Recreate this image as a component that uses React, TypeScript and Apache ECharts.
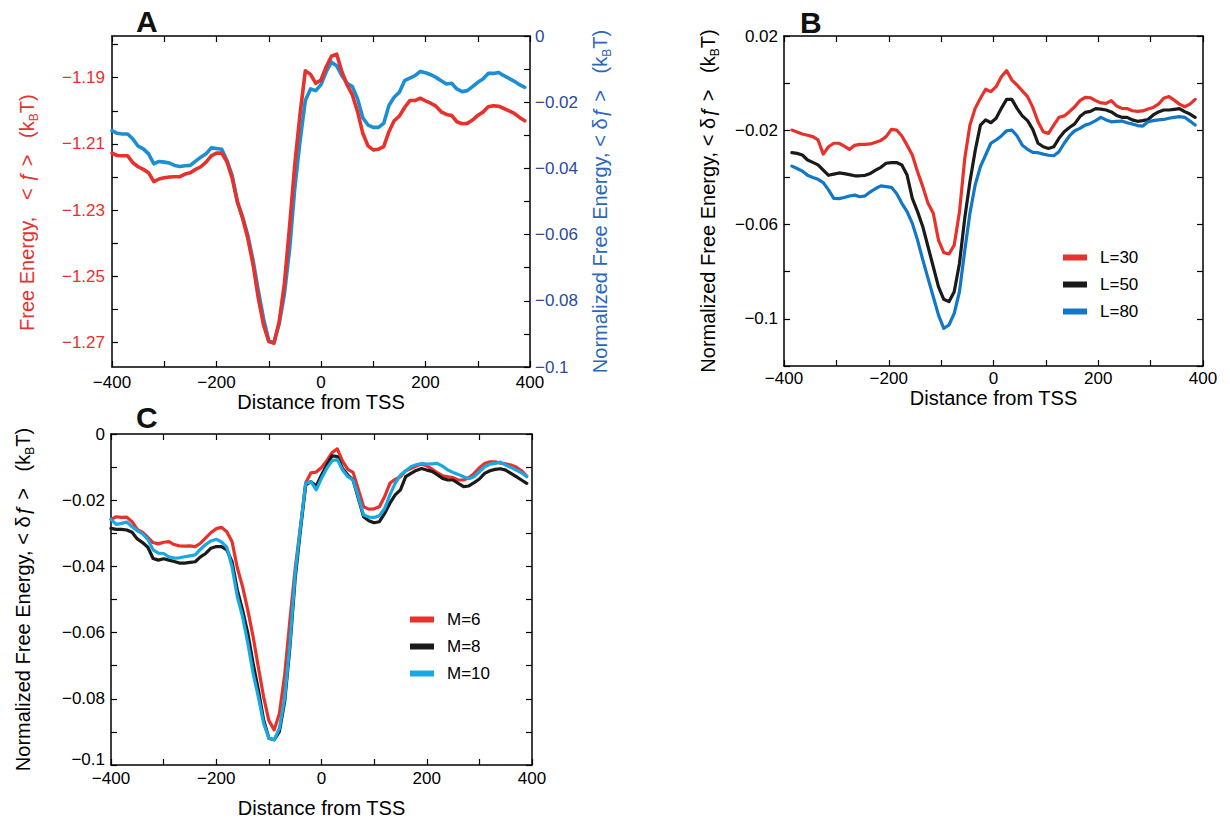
import React, { useEffect, useRef } from 'react';
import * as echarts from 'echarts';

// ---------- data ----------
const xA = [-400,-390,-380,-370,-360,-350,-340,-330,-320,-310,-300,-290,-280,-270,-260,-250,-240,-230,-220,-210,-200,-190,-180,-170,-160,-150,-140,-130,-120,-110,-100,-90,-80,-70,-60,-50,-40,-30,-20,-10,0,10,20,30,40,50,60,70,80,90,100,110,120,130,140,150,160,170,180,190,200,210,220,230,240,250,260,270,280,290,300,310,320,330,340,350,360,370,380,390];
const xB = [-385,-375,-365,-355,-345,-335,-325,-315,-305,-295,-285,-275,-265,-255,-245,-235,-225,-215,-205,-195,-185,-175,-165,-155,-145,-135,-125,-115,-105,-95,-85,-75,-65,-55,-45,-35,-25,-15,-5,5,15,25,35,45,55,65,75,85,95,105,115,125,135,145,155,165,175,185,195,205,215,225,235,245,255,265,275,285,295,305,315,325,335,345,355,365,375,385];
const xC = xA;

const aFreeEnergy = [
-1.2128,-1.2135,-1.2136,-1.2136,-1.2157,-1.2169,-1.2177,-1.2187,-1.2214,-1.2206,
-1.2202,-1.2200,-1.2199,-1.2199,-1.2191,-1.2187,-1.2177,-1.2169,-1.2155,-1.2136,
-1.2128,-1.2128,-1.2154,-1.2204,-1.2274,-1.2325,-1.2386,-1.2465,-1.2566,-1.2647,
-1.2697,-1.2702,-1.2637,-1.2521,-1.2347,-1.2159,-1.2008,-1.1879,-1.1890,-1.1917,
-1.1907,-1.1867,-1.1835,-1.1829,-1.1882,-1.1922,-1.1952,-1.2003,-1.2068,-1.2106,
-1.2118,-1.2116,-1.2108,-1.2063,-1.2030,-1.2016,-1.1990,-1.1969,-1.1969,-1.1962,
-1.1970,-1.1977,-1.1986,-1.2003,-1.2011,-1.2014,-1.2033,-1.2039,-1.2038,-1.2028,
-1.2014,-1.2004,-1.1988,-1.1985,-1.1986,-1.1993,-1.2000,-1.2008,-1.2020,-1.2030];
const aNormalized = [
-0.0286,-0.0294,-0.0296,-0.0296,-0.0311,-0.0333,-0.0341,-0.0356,-0.0386,-0.0379,
-0.0381,-0.0384,-0.0391,-0.0394,-0.0392,-0.0391,-0.0378,-0.0366,-0.0356,-0.0338,
-0.0340,-0.0342,-0.0376,-0.0422,-0.0502,-0.0547,-0.0603,-0.0678,-0.0769,-0.0854,
-0.0920,-0.0925,-0.0869,-0.0779,-0.0643,-0.0457,-0.0316,-0.0195,-0.0160,-0.0165,
-0.0147,-0.0108,-0.0079,-0.0090,-0.0120,-0.0143,-0.0153,-0.0190,-0.0247,-0.0269,
-0.0276,-0.0276,-0.0264,-0.0210,-0.0185,-0.0170,-0.0135,-0.0127,-0.0120,-0.0107,
-0.0111,-0.0117,-0.0125,-0.0135,-0.0145,-0.0143,-0.0160,-0.0168,-0.0165,-0.0153,
-0.0140,-0.0130,-0.0113,-0.0113,-0.0110,-0.0120,-0.0128,-0.0137,-0.0147,-0.0155];

const bL30 = [
-0.0199,-0.0207,-0.0216,-0.0221,-0.0227,-0.0241,-0.0301,-0.0270,-0.0255,-0.0255,
-0.0267,-0.0281,-0.0264,-0.0260,-0.0260,-0.0258,-0.0251,-0.0243,-0.0227,-0.0196,
-0.0199,-0.0224,-0.0263,-0.0305,-0.0376,-0.0439,-0.0510,-0.0552,-0.0666,-0.0719,
-0.0725,-0.0687,-0.0547,-0.0322,-0.0178,-0.0107,-0.0064,-0.0026,-0.0036,-0.0015,
0.0027,0.0053,0.0013,-0.0008,-0.0033,-0.0057,-0.0103,-0.0164,-0.0206,-0.0213,
-0.0178,-0.0145,-0.0139,-0.0121,-0.0100,-0.0074,-0.0060,-0.0062,-0.0074,-0.0084,
-0.0086,-0.0074,-0.0097,-0.0107,-0.0108,-0.0117,-0.0120,-0.0118,-0.0110,-0.0103,
-0.0089,-0.0064,-0.0057,-0.0072,-0.0089,-0.0100,-0.0089,-0.0069];
const bL50 = [
-0.0295,-0.0298,-0.0305,-0.0326,-0.0336,-0.0347,-0.0369,-0.0391,-0.0386,-0.0381,
-0.0384,-0.0388,-0.0393,-0.0393,-0.0391,-0.0383,-0.0369,-0.0357,-0.0340,-0.0337,
-0.0337,-0.0347,-0.0390,-0.0489,-0.0545,-0.0609,-0.0694,-0.0779,-0.0864,-0.0917,
-0.0927,-0.0885,-0.0765,-0.0574,-0.0418,-0.0287,-0.0178,-0.0156,-0.0168,-0.0149,
-0.0107,-0.0069,-0.0069,-0.0107,-0.0139,-0.0159,-0.0196,-0.0255,-0.0270,-0.0277,
-0.0270,-0.0234,-0.0206,-0.0188,-0.0173,-0.0142,-0.0124,-0.0120,-0.0108,-0.0110,
-0.0114,-0.0122,-0.0137,-0.0145,-0.0145,-0.0156,-0.0162,-0.0159,-0.0154,-0.0135,
-0.0122,-0.0114,-0.0114,-0.0111,-0.0108,-0.0121,-0.0131,-0.0145];
const bL80 = [
-0.0352,-0.0362,-0.0373,-0.0391,-0.0400,-0.0408,-0.0422,-0.0453,-0.0489,-0.0490,
-0.0485,-0.0479,-0.0475,-0.0482,-0.0478,-0.0461,-0.0447,-0.0436,-0.0439,-0.0442,
-0.0468,-0.0510,-0.0545,-0.0595,-0.0666,-0.0750,-0.0828,-0.0906,-0.0984,-0.1040,
-0.1026,-0.0977,-0.0885,-0.0712,-0.0552,-0.0432,-0.0354,-0.0305,-0.0255,-0.0241,
-0.0224,-0.0202,-0.0199,-0.0224,-0.0263,-0.0281,-0.0294,-0.0295,-0.0301,-0.0306,
-0.0308,-0.0291,-0.0255,-0.0224,-0.0202,-0.0192,-0.0178,-0.0171,-0.0159,-0.0145,
-0.0156,-0.0164,-0.0162,-0.0161,-0.0168,-0.0173,-0.0180,-0.0182,-0.0164,-0.0159,
-0.0156,-0.0154,-0.0149,-0.0145,-0.0142,-0.0145,-0.0161,-0.0178];

const cM6 = [
-0.0258,-0.0250,-0.0252,-0.0251,-0.0265,-0.0288,-0.0297,-0.0312,-0.0328,-0.0332,
-0.0327,-0.0325,-0.0334,-0.0338,-0.0339,-0.0338,-0.0340,-0.0330,-0.0314,-0.0298,
-0.0286,-0.0282,-0.0295,-0.0325,-0.0404,-0.0461,-0.0532,-0.0612,-0.0705,-0.0794,
-0.0866,-0.0894,-0.0844,-0.0728,-0.0562,-0.0406,-0.0280,-0.0147,-0.0117,-0.0115,
-0.0101,-0.0081,-0.0056,-0.0045,-0.0082,-0.0107,-0.0116,-0.0167,-0.0220,-0.0227,
-0.0226,-0.0220,-0.0189,-0.0149,-0.0137,-0.0129,-0.0111,-0.0104,-0.0097,-0.0091,
-0.0096,-0.0106,-0.0117,-0.0126,-0.0129,-0.0132,-0.0139,-0.0139,-0.0132,-0.0119,
-0.0102,-0.0089,-0.0084,-0.0084,-0.0088,-0.0090,-0.0094,-0.0100,-0.0111,-0.0127];
const cM8 = [
-0.0285,-0.0288,-0.0288,-0.0290,-0.0297,-0.0317,-0.0328,-0.0342,-0.0376,-0.0381,
-0.0377,-0.0381,-0.0385,-0.0390,-0.0390,-0.0388,-0.0386,-0.0371,-0.0361,-0.0345,
-0.0340,-0.0340,-0.0350,-0.0386,-0.0471,-0.0532,-0.0602,-0.0693,-0.0773,-0.0864,
-0.0919,-0.0924,-0.0899,-0.0809,-0.0643,-0.0436,-0.0290,-0.0154,-0.0144,-0.0157,
-0.0124,-0.0094,-0.0066,-0.0068,-0.0104,-0.0124,-0.0139,-0.0194,-0.0250,-0.0262,
-0.0268,-0.0265,-0.0240,-0.0209,-0.0184,-0.0169,-0.0129,-0.0119,-0.0110,-0.0104,
-0.0109,-0.0113,-0.0123,-0.0134,-0.0139,-0.0139,-0.0149,-0.0159,-0.0157,-0.0147,
-0.0136,-0.0119,-0.0111,-0.0107,-0.0105,-0.0109,-0.0119,-0.0129,-0.0139,-0.0149];
const cM10 = [
-0.0258,-0.0273,-0.0270,-0.0266,-0.0280,-0.0292,-0.0302,-0.0318,-0.0350,-0.0360,
-0.0361,-0.0371,-0.0375,-0.0374,-0.0371,-0.0368,-0.0365,-0.0348,-0.0334,-0.0323,
-0.0318,-0.0326,-0.0342,-0.0401,-0.0491,-0.0552,-0.0632,-0.0723,-0.0794,-0.0874,
-0.0919,-0.0924,-0.0889,-0.0799,-0.0632,-0.0421,-0.0280,-0.0149,-0.0144,-0.0169,
-0.0134,-0.0104,-0.0081,-0.0077,-0.0109,-0.0129,-0.0139,-0.0189,-0.0245,-0.0251,
-0.0252,-0.0247,-0.0225,-0.0184,-0.0149,-0.0124,-0.0111,-0.0099,-0.0093,-0.0089,
-0.0091,-0.0090,-0.0089,-0.0097,-0.0109,-0.0116,-0.0122,-0.0129,-0.0135,-0.0129,
-0.0114,-0.0099,-0.0091,-0.0089,-0.0085,-0.0094,-0.0101,-0.0109,-0.0117,-0.0129];

const aLeftTicks = [-1.27,-1.26,-1.25,-1.24,-1.23,-1.22,-1.21,-1.2,-1.19,-1.18];
const aLeftLabels = [-1.27,-1.25,-1.23,-1.21,-1.19];
const xLabels = [-400,-200,0,200,400];

// ---------- styling ----------
const FONT = '"Liberation Sans", Arial, Helvetica, sans-serif';
const RED = '#e8312b';
const BLACK = '#1a1a1a';
const BLUE_A = '#1b8fd2';
const BLUE_B = '#1177c6';
const CYAN_C = '#16a9e4';
const AXIS_BLUE = '#2b4a9e';
const TITLE_BLUE = '#2a67bd';
const TICK_SIZE = 17;
const TITLE_SIZE = 20;

function fmt(v: number): string {
  if (Math.abs(v) < 1e-9) return '0';
  const s = parseFloat(v.toFixed(4)).toString();
  return s.replace('-', '\u2212');
}
const pair = (xs: number[], ys: number[]) => xs.map((x, i) => [x, ys[i]]);

const lineStyleAxis = { color: '#000', width: 1.5 };
const tickBase = { show: true, inside: true, length: 6, lineStyle: { color: '#000', width: 1.2 } };

function xAxesFor(gridIndex: number, nameGap: number, labelMargin: number) {
  return [
    {
      type: 'value', gridIndex, position: 'bottom', min: -400, max: 400, interval: 100,
      axisLine: { show: true, onZero: false, lineStyle: lineStyleAxis },
      axisTick: tickBase, splitLine: { show: false },
      axisLabel: {
        customValues: xLabels,
        formatter: (v: number) => fmt(v), color: '#000', fontSize: TICK_SIZE, fontFamily: FONT, margin: labelMargin,
      },
      name: 'Distance from TSS', nameLocation: 'middle', nameGap,
      nameTextStyle: { fontSize: TITLE_SIZE, color: '#000', fontFamily: FONT },
    },
    {
      type: 'value', gridIndex, position: 'top', min: -400, max: 400, interval: 100,
      axisLine: { show: true, onZero: false, lineStyle: lineStyleAxis },
      axisTick: tickBase, splitLine: { show: false }, axisLabel: { show: false },
    },
  ];
}

function richFor(color: string, size: number) {
  return {
    f: { fontFamily: FONT, fontSize: size, color, fontStyle: 'italic' },
    sub: { fontFamily: FONT, fontSize: Math.round(size * 0.62), color, verticalAlign: 'bottom', lineHeight: size * 0.62, padding: [0, 0, -3, 0] },
  };
}

function lineSeries(name: string, xs: number[], ys: number[], color: string, xi: number, yi: number, width = 3.2) {
  return {
    type: 'line', name, xAxisIndex: xi, yAxisIndex: yi, data: pair(xs, ys),
    showSymbol: false, symbol: 'none', color,
    lineStyle: { color, width, cap: 'round', join: 'round' }, emphasis: { disabled: true },
  };
}

export default function App() {
  const ref = useRef<HTMLDivElement>(null);
  useEffect(() => {
    document.body.style.margin = '0';
    if (!ref.current) return;
    const chart = echarts.init(ref.current, undefined, { renderer: 'svg' });
    const tSize = TITLE_SIZE;
    const option: any = {
      animation: false,
      backgroundColor: '#fff',
      grid: [
        { left: 112, top: 36, width: 418, height: 331 },
        { left: 784, top: 36, width: 419, height: 330 },
        { left: 111, top: 434, width: 421, height: 331 },
      ],
      xAxis: [...xAxesFor(0, 22, 7), ...xAxesFor(1, 22, 4), ...xAxesFor(2, 33, 5)],
      yAxis: [
        // A left
        {
          type: 'value', gridIndex: 0, position: 'left', min: -1.2774, max: -1.1774,
          axisLine: { show: true, onZero: false, lineStyle: lineStyleAxis },
          axisTick: { ...tickBase, customValues: aLeftTicks },
          splitLine: { show: false },
          axisLabel: { customValues: aLeftLabels, formatter: (v: number) => fmt(v), color: RED, fontSize: TICK_SIZE, fontFamily: FONT, margin: 7 },
          name: 'Free Energy,   < {f|ƒ} >   (k{sub|B}T)    ', nameLocation: 'middle', nameRotate: 90, nameGap: 75,
          nameTextStyle: { fontSize: tSize, color: RED, fontFamily: FONT, rich: richFor(RED, tSize) },
        },
        // A right
        {
          type: 'value', gridIndex: 0, position: 'right', min: -0.1, max: 0, interval: 0.01,
          axisLine: { show: true, onZero: false, lineStyle: lineStyleAxis },
          axisTick: tickBase, splitLine: { show: false },
          axisLabel: {
            formatter: (v: number) => (Math.round(v * 100) % 2 === 0 ? fmt(v) : ''),
            color: AXIS_BLUE, fontSize: TICK_SIZE, fontFamily: FONT, margin: 5,
          },
          name: 'Normalized Free Energy, < δ{f|ƒ} >   (k{sub|B}T)', nameLocation: 'middle', nameRotate: 90, nameGap: 60,
          nameTextStyle: { fontSize: tSize, color: TITLE_BLUE, fontFamily: FONT, rich: richFor(TITLE_BLUE, tSize) },
        },
        // B left
        {
          type: 'value', gridIndex: 1, position: 'left', min: -0.12, max: 0.02, interval: 0.02,
          axisLine: { show: true, onZero: false, lineStyle: lineStyleAxis },
          axisTick: tickBase, splitLine: { show: false },
          axisLabel: {
            formatter: (v: number) => (Math.round(v * 100) % 4 !== 0 ? fmt(v) : ''),
            color: '#000', fontSize: TICK_SIZE, fontFamily: FONT, margin: 6,
          },
          name: 'Normalized Free Energy, < δ{f|ƒ} >   (k{sub|B}T)', nameLocation: 'middle', nameRotate: 90, nameGap: 66,
          nameTextStyle: { fontSize: tSize, color: '#000', fontFamily: FONT, rich: richFor('#000', tSize) },
        },
        // B right
        {
          type: 'value', gridIndex: 1, position: 'right', min: -0.12, max: 0.02, interval: 0.02,
          axisLine: { show: true, onZero: false, lineStyle: lineStyleAxis },
          axisTick: tickBase, splitLine: { show: false }, axisLabel: { show: false },
        },
        // C left
        {
          type: 'value', gridIndex: 2, position: 'left', min: -0.1, max: 0, interval: 0.01,
          axisLine: { show: true, onZero: false, lineStyle: lineStyleAxis },
          axisTick: tickBase, splitLine: { show: false },
          axisLabel: {
            formatter: (v: number) => {
              const r = Math.round(v * 100);
              if (r % 2 !== 0) return '';
              return r === -10 ? '{lo|' + fmt(v) + '}' : fmt(v);
            },
            color: '#000', fontSize: TICK_SIZE, fontFamily: FONT, margin: 6,
            rich: { lo: { color: '#000', fontSize: TICK_SIZE, fontFamily: FONT, padding: [0, 0, 12, 0] } },
          },
          name: 'Normalized Free Energy, < δ{f|ƒ} >   (k{sub|B}T)', nameLocation: 'middle', nameRotate: 90, nameGap: 78,
          nameTextStyle: { fontSize: tSize, color: '#000', fontFamily: FONT, rich: richFor('#000', tSize) },
        },
        // C right
        {
          type: 'value', gridIndex: 2, position: 'right', min: -0.1, max: 0, interval: 0.01,
          axisLine: { show: true, onZero: false, lineStyle: lineStyleAxis },
          axisTick: tickBase, splitLine: { show: false }, axisLabel: { show: false },
        },
      ],
      legend: [
        {
          data: ['L=30', 'L=50', 'L=80'], orient: 'vertical', left: 1058, top: 244,
          icon: 'rect', itemWidth: 24, itemHeight: 6, itemGap: 10, selectedMode: false,
          textStyle: { fontSize: 17, fontFamily: FONT, color: '#000', padding: [0, 0, 0, 8] },
        },
        {
          data: ['M=6', 'M=8', 'M=10'], orient: 'vertical', left: 405, top: 606,
          icon: 'rect', itemWidth: 24, itemHeight: 6, itemGap: 10, selectedMode: false,
          textStyle: { fontSize: 17, fontFamily: FONT, color: '#000', padding: [0, 0, 0, 8] },
        },
      ],
      graphic: [
        { type: 'text', left: 136, top: 6, style: { text: 'A', fontSize: 30, fontWeight: 'bold', fontFamily: FONT, fill: '#111' } },
        { type: 'text', left: 800, top: 7, style: { text: 'B', fontSize: 30, fontWeight: 'bold', fontFamily: FONT, fill: '#111' } },
        { type: 'text', left: 136, top: 402, style: { text: 'C', fontSize: 30, fontWeight: 'bold', fontFamily: FONT, fill: '#111' } },
      ],
      series: [
        lineSeries('<δf>', xA, aNormalized, BLUE_A, 0, 1, 3.6),
        lineSeries('<f>', xA, aFreeEnergy, RED, 0, 0, 3.6),
        lineSeries('L=30', xB, bL30, RED, 2, 2),
        lineSeries('L=50', xB, bL50, BLACK, 2, 2),
        lineSeries('L=80', xB, bL80, BLUE_B, 2, 2),
        lineSeries('M=6', xC, cM6, RED, 4, 4),
        lineSeries('M=8', xC, cM8, BLACK, 4, 4),
        lineSeries('M=10', xC, cM10, CYAN_C, 4, 4),
      ],
    };
    chart.setOption(option);
    return () => chart.dispose();
  }, []);
  return <div ref={ref} style={{ width: 1230, height: 825 }} />;
}
